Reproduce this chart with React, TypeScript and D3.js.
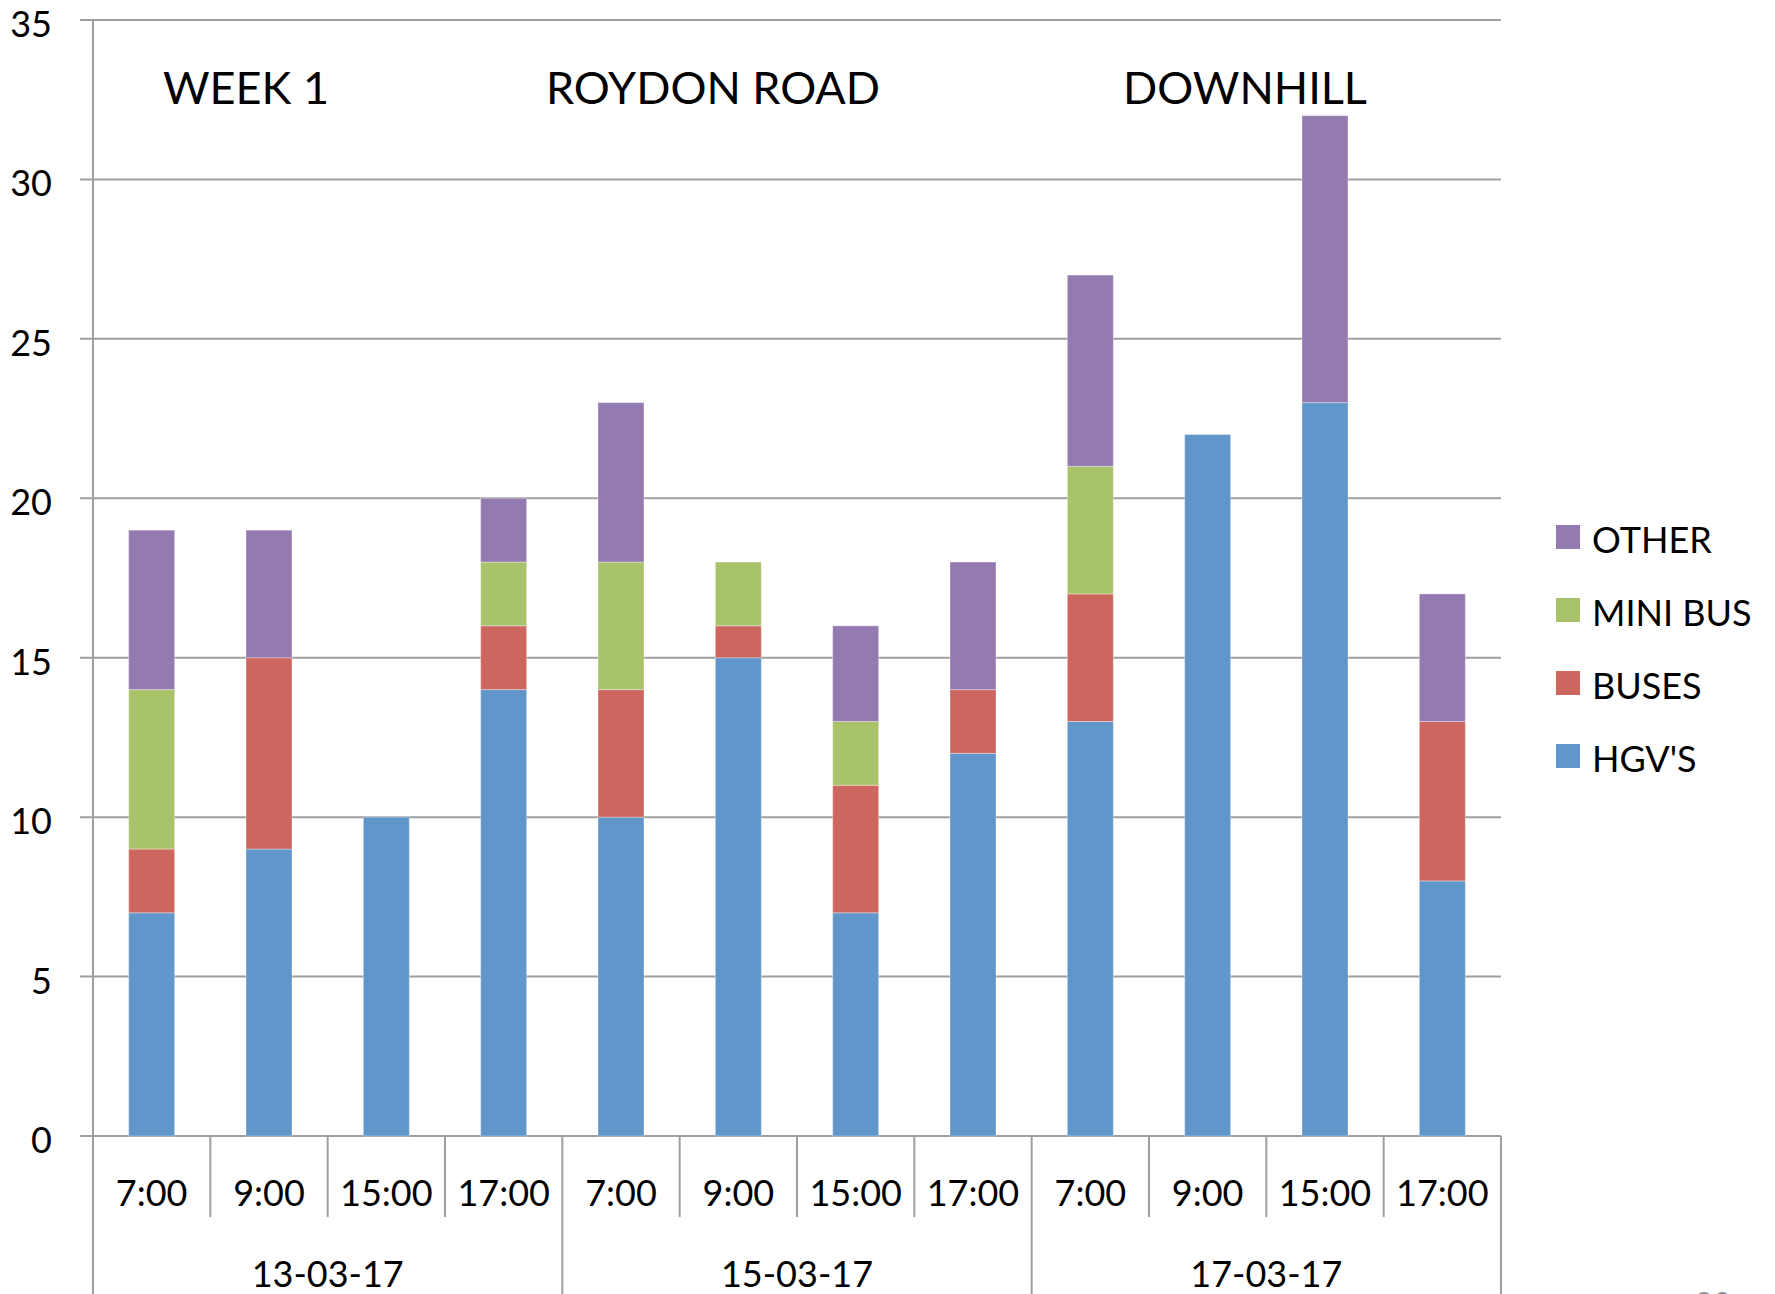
import React from "react";
import * as d3 from "d3";

// ---- data ----
const times = ["7:00", "9:00", "15:00", "17:00", "7:00", "9:00", "15:00", "17:00", "7:00", "9:00", "15:00", "17:00"];
const dates = ["13-03-17", "15-03-17", "17-03-17"];
const seriesNames = ["HGV'S", "BUSES", "MINI BUS", "OTHER"];
const hgv = [7, 9, 10, 14, 10, 15, 7, 12, 13, 22, 23, 8];
const buses = [2, 6, 0, 2, 4, 1, 4, 2, 4, 0, 0, 5];
const miniBus = [5, 0, 0, 2, 4, 2, 2, 0, 4, 0, 0, 0];
const other = [5, 4, 0, 2, 5, 0, 3, 4, 6, 0, 9, 4];
const yTicks = [0, 5, 10, 15, 20, 25, 30, 35];
const titles = ["WEEK 1", "ROYDON ROAD", "DOWNHILL"];
const colors = ["#6096c9", "#cd665f", "#a9c36a", "#937ab1"];

const W = 1775;
const H = 1294;
const left = 93;
const right = 1501;
const top = 20;
const bottom = 1136;
const FONT = "Lato, 'Open Sans', sans-serif";
const GRID = "#9f9f9f";

export default function App() {
  const keys = times.map((_, i) => String(i));
  const rows = keys.map((k, i) => ({
    key: k,
    [seriesNames[0]]: hgv[i],
    [seriesNames[1]]: buses[i],
    [seriesNames[2]]: miniBus[i],
    [seriesNames[3]]: other[i],
  }));
  const x = d3.scaleBand<string>().domain(keys).range([left, right]).paddingInner(0.608).paddingOuter(0.304);
  const y = d3.scaleLinear().domain([0, 35]).range([bottom, top]);
  const stack = d3.stack<any>().keys(seriesNames);
  const layers = stack(rows);
  const step = x.step();
  const catLeft = (i: number) => left + i * step;

  return (
    <svg width={W} height={H} style={{ position: "absolute", left: 0, top: 0, display: "block", background: "#fff" }} fontFamily={FONT}>
      {/* gridlines */}
      {yTicks.map((t) => (
        <line key={"g" + t} x1={80} x2={right} y1={y(t)} y2={y(t)} stroke={GRID} strokeWidth={2} />
      ))}
      {/* y labels */}
      {yTicks.map((t) => (
        <text key={"yl" + t} x={52} y={y(t) + 3} textAnchor="end" dominantBaseline="central" fontSize={36} fill="#000">
          {t}
        </text>
      ))}
      {/* bars */}
      {layers.map((layer, li) => (
        <g key={layer.key} fill={colors[li]}>
          {layer.map((d, i) =>
            d[1] - d[0] > 0 ? (
              <rect
                key={i}
                x={x(keys[i])}
                y={y(d[1])}
                width={x.bandwidth()}
                height={y(d[0]) - y(d[1])}
                stroke="#ffffff"
                strokeOpacity={0.35}
                strokeWidth={1}
              />
            ) : null
          )}
        </g>
      ))}
      {/* left axis */}
      <line x1={left} x2={left} y1={top} y2={H} stroke={GRID} strokeWidth={2} />
      {/* category separators */}
      {d3.range(1, times.length + 1).map((i) => (
        <line
          key={"s" + i}
          x1={catLeft(i)}
          x2={catLeft(i)}
          y1={bottom}
          y2={i % 4 === 0 ? H : 1217}
          stroke={GRID}
          strokeWidth={2}
        />
      ))}
      {/* time labels */}
      {times.map((t, i) => (
        <text key={"t" + i} x={(x(keys[i]) as number) + x.bandwidth() / 2} y={1206} textAnchor="middle" fontSize={36} fill="#000">
          {t}
        </text>
      ))}
      {/* date labels */}
      {dates.map((d, i) => (
        <text key={"d" + i} x={catLeft(i * 4) + step * 2} y={1287} textAnchor="middle" fontSize={36} fill="#000">
          {d}
        </text>
      ))}
      {/* titles */}
      {titles.map((t, i) => (
        <text key={"ti" + i} x={[246, 713, 1245][i]} y={104} textAnchor="middle" fontSize={45} fill="#000">
          {t}
        </text>
      ))}
      {/* legend */}
      {seriesNames
        .map((s, i) => ({ s, i }))
        .reverse()
        .map(({ s, i }, j) => (
          <g key={"lg" + s} transform={`translate(1556, ${525 + j * 73})`}>
            <rect width={24} height={24} fill={colors[i]} />
            <text x={36} y={28} fontSize={36} fill="#000">
              {s}
            </text>
          </g>
        ))}
      {/* page number (cut off at the bottom edge, as in the reference) */}
      <text x={1713} y={1316} textAnchor="middle" fontSize={32} fill="#8c8c8c">
        20
      </text>
    </svg>
  );
}
